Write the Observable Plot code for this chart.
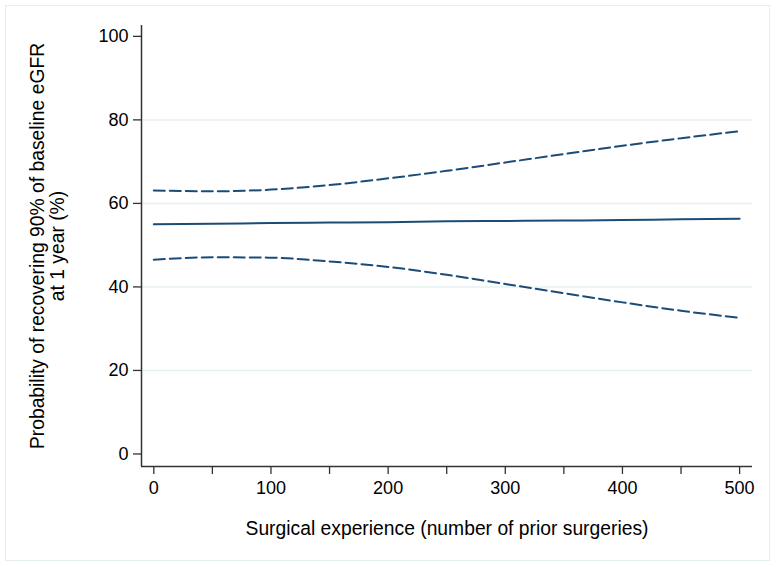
<!DOCTYPE html>
<html>
<head>
<meta charset="utf-8">
<script src="https://cdn.jsdelivr.net/npm/d3@7"></script>
<script src="https://cdn.jsdelivr.net/npm/@observablehq/plot@0.6"></script>
<style>
  html, body { margin: 0; padding: 0; background: #fff; }
  #wrap { position: relative; width: 777px; height: 567px; }
  #frame { position: absolute; left: 5px; top: 5px; width: 765px; height: 556px; border: 1.5px solid #e4eeef; box-sizing: border-box; pointer-events: none; }
  svg { font-family: "Liberation Sans", Arial, Helvetica, sans-serif; }
</style>
</head>
<body>
<div id="wrap"><div id="frame"></div></div>
<script>
// Data
const experience = [0, 50, 100, 150, 200, 250, 300, 350, 400, 450, 500];
const probability = [55.0, 55.1, 55.3, 55.4, 55.5, 55.7, 55.8, 55.9, 56.0, 56.2, 56.3];
const upperCI = [63.1, 62.9, 63.3, 64.4, 66.0, 67.8, 69.8, 71.8, 73.8, 75.6, 77.3];
const lowerCI = [46.5, 47.1, 47.0, 46.1, 44.8, 42.9, 40.7, 38.5, 36.3, 34.3, 32.6];

const xMajorTicks = [0, 100, 200, 300, 400, 500];
const xMinorTicks = [50, 150, 250, 350, 450];
const yTicks = [0, 20, 40, 60, 80, 100];
const yGrid = [20, 40, 60, 80];
const xDomain = [-10.5, 511];
const yDomain = [-3, 102.6];

const xLabel = "Surgical experience (number of prior surgeries)";
const yLabel = "Probability of recovering 90% of baseline eGFR\nat 1 year (%)";

const rows = experience.map((x, i) => ({x, est: probability[i], hi: upperCI[i], lo: lowerCI[i]}));

const navy = "#1a4c77";
const axisColor = "#333333";

const chart = Plot.plot({
  width: 777,
  height: 567,
  marginLeft: 141,
  marginRight: 25,
  marginTop: 25,
  marginBottom: 101,
  style: {fontFamily: '"Liberation Sans", Arial, Helvetica, sans-serif', fontSize: "18px", background: "transparent", color: "#000"},
  x: {domain: xDomain},
  y: {domain: yDomain},
  marks: [
    Plot.ruleY(yGrid, {stroke: "#e6f0f1", strokeWidth: 1.5}),
    Plot.axisY({ticks: yTicks, tickSize: 8, tickPadding: 5, stroke: axisColor, strokeWidth: 1.3, fill: "#000", fontSize: 18, label: null}),
    Plot.axisX({ticks: xMajorTicks, tickSize: 8, tickPadding: 7, stroke: axisColor, strokeWidth: 1.3, fill: "#000", fontSize: 18, label: null}),
    Plot.axisX({ticks: xMinorTicks, tickSize: 8, tickFormat: () => "", stroke: axisColor, strokeWidth: 1.3, label: null}),
    Plot.ruleX([xDomain[0]], {y1: yDomain[0], y2: yDomain[1], stroke: axisColor, strokeWidth: 1.5}),
    Plot.ruleY([yDomain[0]], {x1: xDomain[0], x2: xDomain[1], stroke: axisColor, strokeWidth: 1.5}),
    Plot.line(rows, {x: "x", y: "hi", stroke: navy, strokeWidth: 2, strokeDasharray: "11,5", curve: "monotone-x"}),
    Plot.line(rows, {x: "x", y: "lo", stroke: navy, strokeWidth: 2, strokeDasharray: "11,5", curve: "monotone-x"}),
    Plot.line(rows, {x: "x", y: "est", stroke: navy, strokeWidth: 2, curve: "monotone-x"}),
    Plot.text([yLabel], {frameAnchor: "left", rotate: -90, dx: -94, fontSize: 19.3, lineHeight: 1.03, lineAnchor: "middle", textAnchor: "middle", fill: "#000"}),
    Plot.text([xLabel], {frameAnchor: "bottom", dy: 62, fontSize: 19.3, lineAnchor: "middle", textAnchor: "middle", fill: "#000"})
  ]
});
document.getElementById("wrap").insertBefore(chart, document.getElementById("frame"));
</script>
</body>
</html>
